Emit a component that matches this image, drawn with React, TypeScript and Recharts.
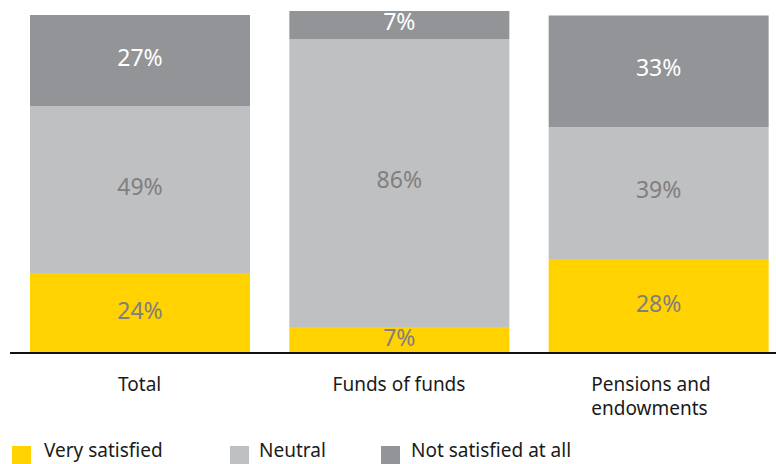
import { BarChart, Bar, XAxis, YAxis, LabelList } from 'recharts'

const categories = ['Total', 'Funds of funds', 'Pensions and endowments']
const verySatisfied = [23.7, 7.7, 27.8]
const neutral = [49.4, 85.2, 39.0]
const notSatisfied = [26.9, 8.3, 33.1]
const verySatisfiedLabels = ['24%', '7%', '28%']
const neutralLabels = ['49%', '86%', '39%']
const notSatisfiedLabels = ['27%', '7%', '33%']

const YELLOW = '#FFD200'
const LIGHT = '#BFC0C2'
const DARK = '#939497'
const LABEL_GRAY = '#7f7f7f'
const FONT = '"Noto Sans", "Open Sans", sans-serif'

const data = categories.map((name, i) => ({
    name,
    vs: verySatisfied[i],
    ne: neutral[i],
    ns: notSatisfied[i],
    vsLabel: verySatisfiedLabels[i],
    neLabel: neutralLabels[i],
    nsLabel: notSatisfiedLabels[i],
}))

const legendItems = [
    { name: 'Very satisfied', color: YELLOW, box: 12, text: 44 },
    { name: 'Neutral', color: LIGHT, box: 230, text: 259 },
    { name: 'Not satisfied at all', color: DARK, box: 381, text: 411 },
]

function wrap(text: string, max: number) {
    const words = text.split(' ')
    const lines: string[] = []
    let cur = ''
    words.forEach((w) => {
        const next = cur ? cur + ' ' + w : w
        if (next.length > max && cur) {
            lines.push(cur)
            cur = w
        } else cur = next
    })
    if (cur) lines.push(cur)
    return lines
}

function CategoryTick(props: any) {
    const { x, y, payload } = props
    const lines = wrap(payload.value, 14)
    // multi-line labels are left aligned as a block in the original
    const multi = lines.length > 1
    const startX = multi ? x - 67 : x
    return (
        <text x={startX} y={y} textAnchor={multi ? 'start' : 'middle'} fill="#1a1a1a" fontSize={19} fontFamily={FONT}>
            {lines.map((l, i) => (
                <tspan key={i} x={startX} dy={i === 0 ? 30 : 24}>{l}</tspan>
            ))}
        </text>
    )
}

export default function App() {
    return (
        <div style={{ position: 'absolute', left: 0, top: 0, width: 776, height: 464, overflow: 'hidden', background: '#fff', fontFamily: FONT }}>
            <BarChart
                width={790}
                height={464}
                data={data}
                margin={{ top: 11, right: 2, left: 10, bottom: 0 }}
                barSize={220}
            >
                <XAxis
                    dataKey="name"
                    height={111}
                    tickLine={false}
                    axisLine={{ stroke: '#111', strokeWidth: 2 }}
                    tick={<CategoryTick />}
                    interval={0}
                />
                <YAxis hide domain={[0, 101.2]} />
                <Bar dataKey="vs" stackId="a" fill={YELLOW} isAnimationActive={false}>
                    <LabelList dataKey="vsLabel" position="center" fill={LABEL_GRAY} fontSize={23} fontFamily={FONT} dy={-2} />
                </Bar>
                <Bar dataKey="ne" stackId="a" fill={LIGHT} isAnimationActive={false}>
                    <LabelList dataKey="neLabel" position="center" fill={LABEL_GRAY} fontSize={23} fontFamily={FONT} dy={-3} />
                </Bar>
                <Bar dataKey="ns" stackId="a" fill={DARK} isAnimationActive={false}>
                    <LabelList dataKey="nsLabel" position="center" fill="#ffffff" fontSize={23} fontFamily={FONT} dy={-3} />
                </Bar>
            </BarChart>
            {legendItems.map((item) => (
                <div key={item.name}>
                    <div style={{ position: 'absolute', left: item.box, top: 446, width: 19, height: 18, background: item.color }} />
                    <div style={{ position: 'absolute', left: item.text, top: 437, fontSize: 19, lineHeight: '26px', color: '#1a1a1a', whiteSpace: 'nowrap' }}>
                        {item.name}
                    </div>
                </div>
            ))}
        </div>
    )
}
